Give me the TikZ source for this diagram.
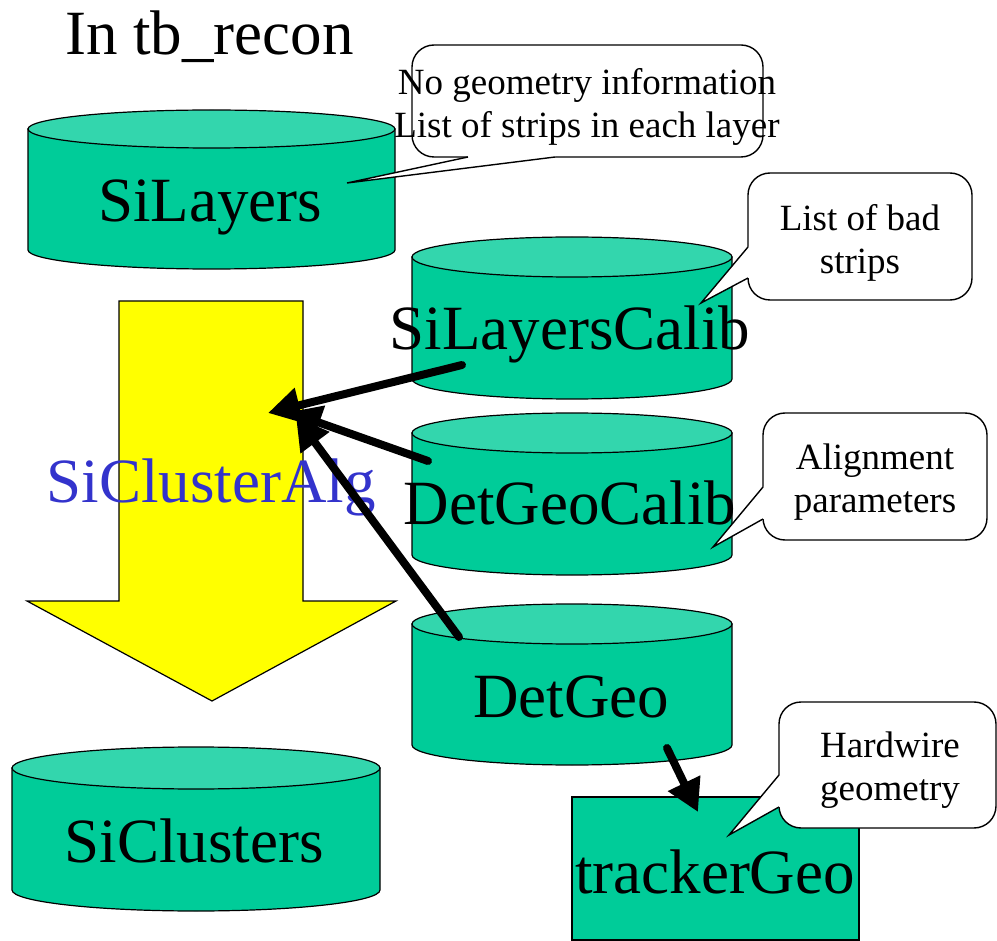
\documentclass[tikz,border=0pt]{standalone}
\usepackage{fontspec}
\setmainfont{Liberation Serif}
\usepackage{tikz}
\usetikzlibrary{arrows.meta}
\definecolor{canbody}{RGB}{0,204,153}
\definecolor{cantop}{RGB}{51,214,173}
\definecolor{algyellow}{RGB}{255,255,0}
\definecolor{algblue}{RGB}{51,51,204}

\begin{document}
\begin{tikzpicture}[x=1pt, y=-1pt,
    big/.style={inner sep=0pt, font=\fontsize{63}{70}\selectfont},
    note/.style={inner sep=0pt, align=center, font=\fontsize{37}{43}\selectfont},
    bubble/.style={draw, fill=white, line width=1.4pt, rounded corners=22pt},
    feed/.style={line width=8pt, line cap=round, -{Triangle[length=32pt, width=34pt]}}]
    \useasboundingbox (0,0) rectangle (997,941);

    % 数据库圆柱 (cx / 顶 / 底 / rx / ry)
    \foreach \cx/\ty/\by/\rx/\ry in {211.5/129/250/183.5/19, 572/257/379/160/20,
        572/433/555/160/20, 572/624/745/160/20, 196/768/890/184/21} {
      \filldraw[canbody, draw=black, line width=1.2pt] (\cx-\rx,\ty) -- (\cx-\rx,\by)
          arc [start angle=180, end angle=0, x radius=\rx, y radius=\ry] -- (\cx+\rx,\ty) -- cycle;
      \filldraw[cantop, draw=black, line width=1.2pt] (\cx,\ty) ellipse [x radius=\rx, y radius=\ry];
    }

    % 算法箭头
    \filldraw[algyellow, draw=black, line width=1.2pt] (119,301) -- (303,301) -- (303,601)
        -- (396,601) -- (212,701) -- (27,601) -- (119,601) -- cycle;
    \node[big, text=algblue, anchor=base] (alg) at (211,502) {SiClusterAlg};

    % trackerGeo
    \filldraw[canbody, draw=black, line width=1.2pt] (572,797) rectangle (859,940);
    \node[big, anchor=base] (trackergeo) at (715,893) {trackerGeo};

    % 标题和名字
    \node[big, anchor=base] (title) at (209.5,55) {In tb\_recon};
    \node[big, anchor=base] (silayers) at (210,222) {SiLayers};
    \node[big, anchor=base] (calib) at (570,350) {SiLayersCalib};
    \node[big, anchor=base] (geocalib) at (570,525) {DetGeoCalib};
    \node[big, anchor=base] (detgeo) at (571,717) {DetGeo};
    \node[big, anchor=base] (siclusters) at (194,862) {SiClusters};

    % 说明框
    \draw[bubble] (412,45) rectangle (763,157);
    \fill[white] (468,153) -- (468,157) -- (347,183) -- (555,157) -- (555,153) -- cycle;
    \draw[line width=1.4pt] (468,157) -- (347,183) -- (555,157);
    \node[note] (nogeo) at (587,106.5) {No geometry information\\List of strips in each layer};

    \draw[bubble] (748,173) rectangle (972,300);
    \fill[white] (752,247) -- (748,247) -- (701,303) -- (748,278) -- (752,278) -- cycle;
    \draw[line width=1.4pt] (748,247) -- (701,303) -- (748,278);
    \node[note] (badstrips) at (860,243) {List of bad\\strips};

    \draw[bubble] (763,413) rectangle (987,540);
    \fill[white] (767,487) -- (763,487) -- (713,547) -- (763,519) -- (767,519) -- cycle;
    \draw[line width=1.4pt] (763,487) -- (713,547) -- (763,519);
    \node[note] (align) at (875,482.5) {Alignment\\parameters};

    \draw[bubble] (779,702) rectangle (996,828);
    \fill[white] (783,775) -- (779,775) -- (729,835) -- (779,807) -- (783,807) -- cycle;
    \draw[line width=1.4pt] (779,775) -- (729,835) -- (779,807);
    \node[note] (hardwire) at (890,770.5) {Hardwire\\geometry};

    % 数据流
    \coordinate (calibout) at (462,365);
    \coordinate (geocalibout) at (428,461);
    \coordinate (detgeoup) at (459,637);
    \coordinate (detgeodown) at (667,748);
    \coordinate (algin1) at (268,413);
    \coordinate (algin2) at (289,412);
    \coordinate (algin3) at (296,417);
    \coordinate (trackerin) at (698,812);
    \draw[feed] (calibout) -- (algin1);
    \draw[feed] (geocalibout) -- (algin2);
    \draw[feed] (detgeoup) -- (algin3);
    \draw[feed] (detgeodown) -- (trackerin);
\end{tikzpicture}
\end{document}
